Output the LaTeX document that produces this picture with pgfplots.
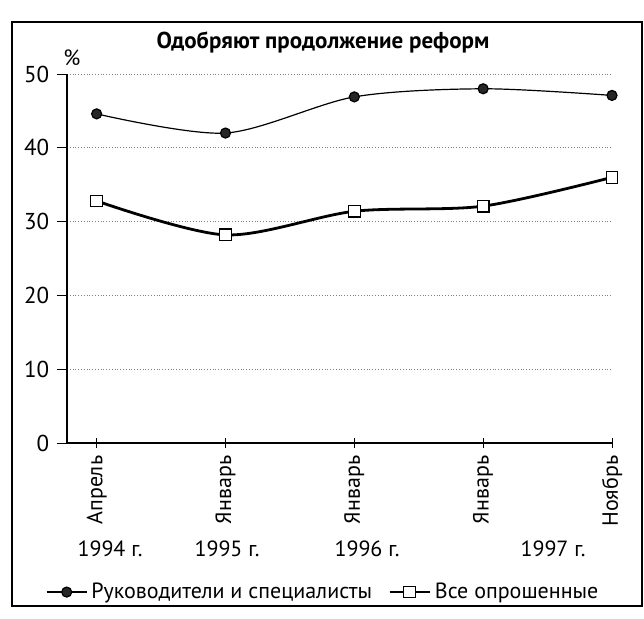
\documentclass[border=0pt]{standalone}
\usepackage{fontspec}
\setmainfont{PT Sans}
\usepackage{pgfplots}
\pgfplotsset{compat=1.18}

\begin{document}
\fontsize{11}{13}\selectfont
\begin{tikzpicture}
\useasboundingbox (-33.5pt,-87.5pt) rectangle (288.5pt,221.5pt);
\begin{axis}[
    scale only axis,
    width=272.5pt, height=184.5pt,
    xmin=-0.23, xmax=4, ymin=0, ymax=50,
    axis x line=bottom, axis y line=left,
    axis line style={-, line width=0.6pt},
    xtick={0,...,4},
    xticklabels={Апрель,Январь,Январь,Январь,Ноябрь},
    x tick label style={rotate=90, anchor=east, font=\fontsize{11}{13}\selectfont},
    ytick={0,10,...,50},
    y tick label style={font=\fontsize{11.5}{13}\selectfont},
    /pgf/number format/assume math mode=true,
    xtick align=center, ytick align=outside,
    major tick length=5pt,
    tick style={black, line width=0.5pt},
    ymajorgrids,
    major grid style={densely dotted, gray, line width=0.4pt},
    clip=false,
    legend image code/.code={
        \draw[mark repeat=2, mark phase=2]
            plot coordinates {(0pt,0pt) (10pt,0pt) (20pt,0pt)};},
    legend style={at={(0.472,-0.404)}, anchor=center, draw=none, fill=none,
        legend columns=2, font=\fontsize{11}{13}\selectfont,
        /tikz/every even column/.append style={column sep=6pt}},
    legend cell align=left,
]
\addplot[black, line width=0.6pt, smooth, mark=*, mark size=2.5pt,
    mark options={fill=black!85}]
    coordinates {(0,44.6)(1,42.0)(2,46.9)(3,48.0)(4,47.1)};
\addplot[black, line width=1.4pt, smooth, mark=square*, mark size=2.9pt,
    mark options={fill=white, line width=0.6pt}]
    coordinates {(0,32.8)(1,28.2)(2,31.4)(3,32.1)(4,36.0)};
\legend{Руководители и специалисты, Все опрошенные}
\end{axis}
\node[font=\fontsize{11.5}{13}\selectfont\bfseries] at (128pt,200.5pt) {Одобряют продолжение реформ};
\node at (2.5pt,192.5pt) {\%};
\node at (21.5pt,-53pt) {1994 г.};
\node at (80pt,-53pt) {1995 г.};
\node at (150pt,-53pt) {1996 г.};
\node at (243pt,-53pt) {1997 г.};
\draw[line width=0.6pt] (-27.5pt,-81.5pt) rectangle (287.5pt,210.5pt);
\end{tikzpicture}
\end{document}
